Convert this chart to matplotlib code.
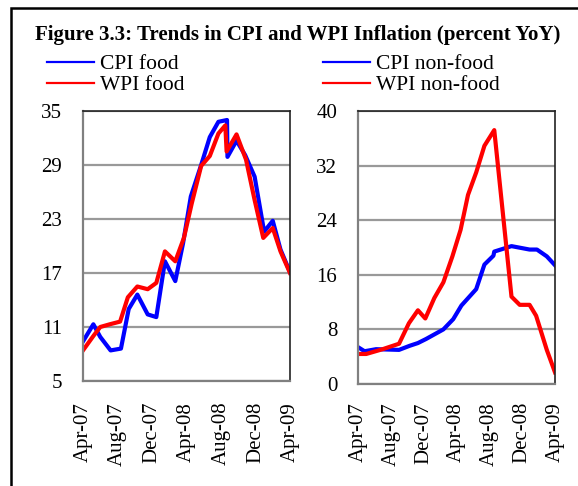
import matplotlib
matplotlib.use('Agg')
import matplotlib.pyplot as plt
from matplotlib.lines import Line2D
from matplotlib.patches import Rectangle

plt.rcParams['font.family'] = ['Liberation Serif', 'DejaVu Serif']

# months since Apr-07 (date axis)
tick_pos = [0, 4, 8, 12, 16, 20, 24]
tick_labels = ['Apr-07', 'Aug-07', 'Dec-07', 'Apr-08', 'Aug-08', 'Dec-08', 'Apr-09']

cpi_food_x = [0, 1.2, 2, 3.2, 4.4, 5.3, 6.3, 7.5, 8.5, 9.5, 10.7, 11.6, 12.5,
              13.7, 14.7, 15.7, 16.7, 16.75, 17.8, 18.8, 19.9, 21, 22, 22.9, 24]
cpi_food = [9.4, 11.3, 9.9, 8.4, 8.6, 13.0, 14.6, 12.4, 12.1, 18.3, 16.1, 20.3, 25.5,
            29.0, 32.1, 33.8, 34.0, 29.9, 31.7, 30.1, 27.7, 21.6, 22.8, 19.6, 17.1]

wpi_food_x = [0, 1.2, 2, 3.1, 4.3, 5.2, 6.3, 7.5, 8.5, 9.5, 10.7, 11.7, 12.6,
              13.7, 14.7, 15.7, 16.5, 16.65, 17.8, 18.9, 19.9, 20.9, 22, 22.9, 24]
wpi_food = [8.4, 10.0, 11.0, 11.3, 11.6, 14.3, 15.5, 15.2, 15.9, 19.4, 18.3, 20.9, 24.7,
            28.9, 30.0, 32.5, 33.4, 30.5, 32.4, 29.6, 25.1, 20.9, 22.0, 19.4, 17.0]

cpi_nonfood_x = [0, 0.8, 2.2, 5, 6.3, 7.3, 8.3, 10.4, 11.6, 12.6, 14.4, 15.4,
                 16.5, 16.6, 18.7, 20.9, 21.8, 23, 24]
cpi_nonfood = [5.4, 4.8, 5.1, 5.0, 5.6, 6.0, 6.6, 8.0, 9.5, 11.5, 13.9, 17.5,
               18.8, 19.4, 20.2, 19.7, 19.7, 18.7, 17.4]

wpi_nonfood_x = [0, 1, 3, 5, 6.2, 7.3, 8.2, 9.3, 10.4, 11.5, 12.5, 13.4, 14.4,
                 15.4, 16.6, 18.7, 19.7, 20.9, 21.7, 23, 24]
wpi_nonfood = [4.4, 4.4, 5.1, 5.9, 8.9, 10.8, 9.6, 12.6, 14.9, 18.7, 22.6, 27.7, 31.0,
               34.9, 37.2, 12.8, 11.6, 11.6, 10.0, 5.0, 1.7]

W, H = 578, 486
fig = plt.figure(figsize=(W / 100, H / 100), dpi=100)

# outer frame (only left and top edges visible in the crop)
fig.patches.append(Rectangle((11 / W, -0.1), 1.2, 1.1 - 8 / H,
                             transform=fig.transFigure, fill=False,
                             lw=1.8, ec='black'))

fig.text(0.5 * (34 + 562) / W, 1 - 35 / H,
         'Figure 3.3: Trends in CPI and WPI Inflation (percent YoY)',
         ha='center', va='center', fontsize=15, fontweight='bold')


def px_axes(x0, y0, x1, y1):
    return fig.add_axes([x0 / W, 1 - y1 / H, (x1 - x0) / W, (y1 - y0) / H])


def style(ax, ylo, yhi, step, xpad):
    ax.set_xlim(0, 24)
    ax.set_ylim(ylo, yhi)
    ax.set_yticks(range(ylo, yhi + 1, step))
    ax.set_xticks(tick_pos)
    ax.set_xticklabels(tick_labels, rotation=90)
    ax.tick_params(axis='both', length=0, labelsize=15)
    ax.tick_params(axis='y', pad=15)
    ax.tick_params(axis='x', pad=xpad)
    ax.yaxis.grid(True, color='#999999', lw=1.6)
    ax.set_axisbelow(True)
    for s in ['left', 'bottom']:
        ax.spines[s].set_color('#808080')
        ax.spines[s].set_linewidth(1.6)
    for s in ['top', 'right']:
        ax.spines[s].set_color('#222222')
        ax.spines[s].set_linewidth(1.2)


ax1 = px_axes(83, 111, 290, 381)
ax1.plot(cpi_food_x, cpi_food, color='#0000ff', lw=3)
ax1.plot(wpi_food_x, wpi_food, color='#ff0000', lw=3)
style(ax1, 5, 35, 6, 15)

ax2 = px_axes(358, 111, 555, 384)
ax2.plot(cpi_nonfood_x, cpi_nonfood, color='#0000ff', lw=3)
ax2.plot(wpi_nonfood_x, wpi_nonfood, color='#ff0000', lw=3)
style(ax2, 0, 40, 8, 13)

# legends
h1 = [Line2D([], [], color='#0000ff', lw=1.6), Line2D([], [], color='#ff0000', lw=1.6)]
leg_kw = dict(loc='upper left', frameon=False, fontsize=15.5, handlelength=2.2,
              handletextpad=0.25, labelspacing=0.05, borderpad=0, borderaxespad=0)
fig.legend(h1, ['CPI food', 'WPI food'], bbox_to_anchor=(47 / W, 1 - 54 / H), **leg_kw)
fig.legend(h1, ['CPI non-food', 'WPI non-food'], bbox_to_anchor=(323 / W, 1 - 54 / H), **leg_kw)

fig.savefig('out.png', dpi=100)
